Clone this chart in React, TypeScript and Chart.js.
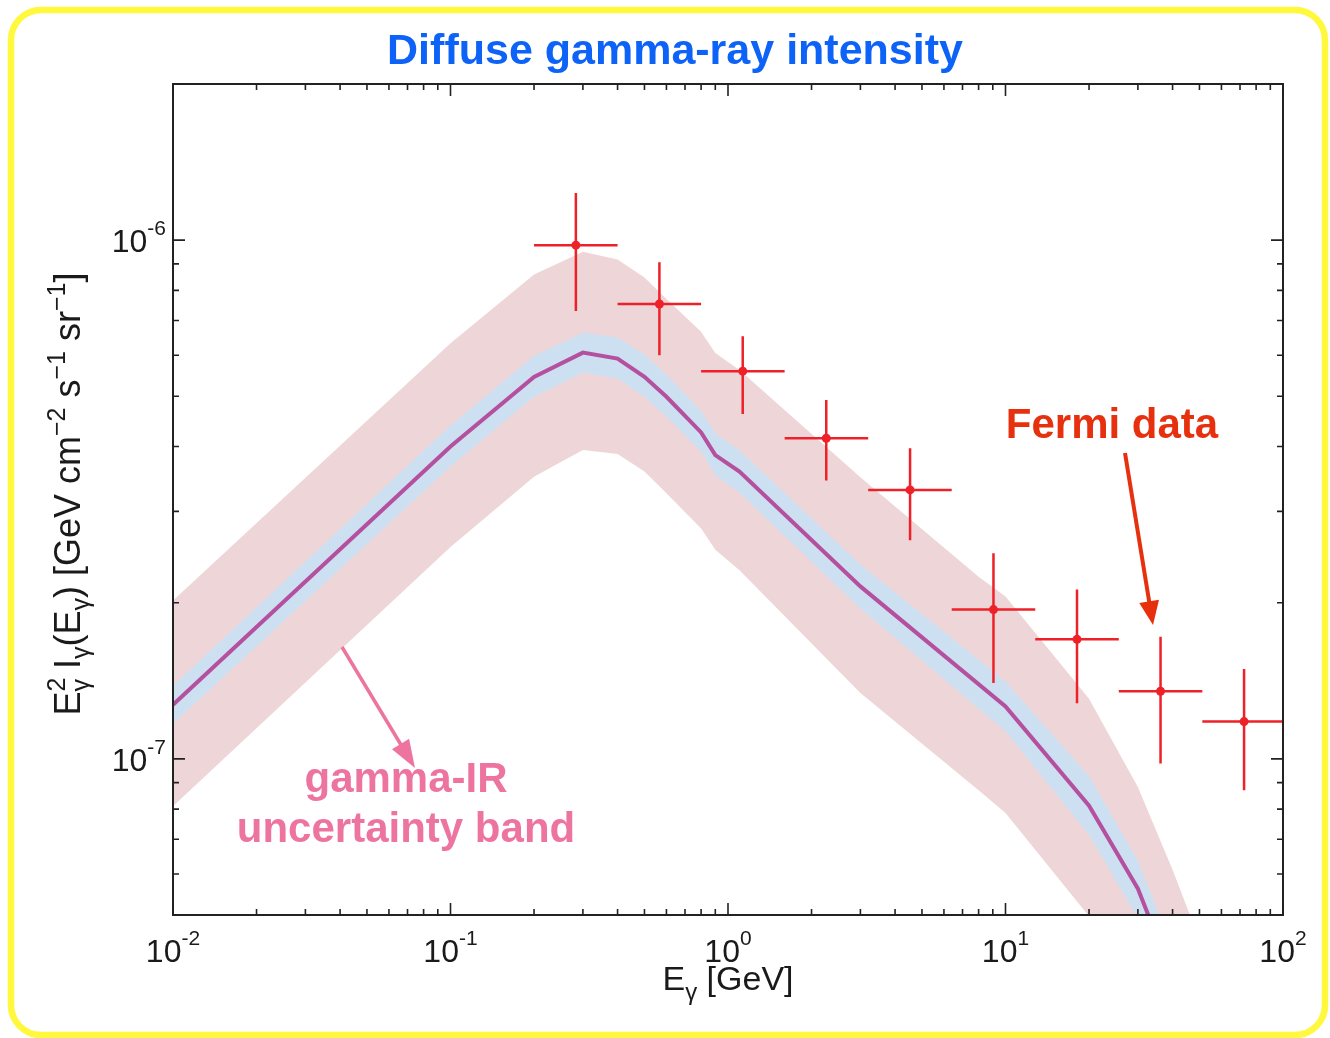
import React, { useEffect, useRef } from "react";
import { Chart, registerables } from "chart.js";

Chart.register(...registerables);

// ---------- axis ranges ----------
const X_MIN = 0.01;
const X_MAX = 100;
const Y_MIN = 5e-8;
const Y_MAX = 2e-6;

// ---------- tick labels (exponents of 10) ----------
const xTickExp = [-2, -1, 0, 1, 2];
const yTickExp = [-7, -6];

// ---------- Fermi data ----------
const fermiE = [0.283, 0.566, 1.13, 2.26, 4.53, 9.05, 18.1, 36.2, 72.4];
const fermiI = [9.78e-7, 7.53e-7, 5.59e-7, 4.15e-7, 3.3e-7, 1.94e-7, 1.7e-7, 1.35e-7, 1.18e-7];
const fermiIlo = [7.3e-7, 6.0e-7, 4.62e-7, 3.44e-7, 2.64e-7, 1.4e-7, 1.28e-7, 9.8e-8, 8.7e-8];
const fermiIhi = [1.233e-6, 9.07e-7, 6.53e-7, 4.92e-7, 3.97e-7, 2.49e-7, 2.12e-7, 1.72e-7, 1.49e-7];
const fermiElo = [0.2, 0.4, 0.8, 1.6, 3.2, 6.4, 12.8, 25.6, 51.2];
const fermiEhi = [0.4, 0.8, 1.6, 3.2, 6.4, 12.8, 25.6, 51.2, 102.4];

// ---------- model curve & narrow (blue) band ----------
const curveE = [0.01, 0.1, 0.2, 0.3, 0.4, 0.5, 0.6, 0.8, 0.9, 1.1, 3, 10, 20, 30, 40];
const curveI = [1.271e-7, 4.0e-7, 5.45e-7, 6.07e-7, 5.91e-7, 5.45e-7, 4.99e-7, 4.26e-7, 3.85e-7, 3.58e-7, 2.15e-7, 1.262e-7, 8.12e-8, 5.62e-8, 3.8e-8];
const blueHi = [1.383e-7, 4.39e-7, 5.98e-7, 6.63e-7, 6.49e-7, 6.01e-7, 5.5e-7, 4.69e-7, 4.25e-7, 3.93e-7, 2.37e-7, 1.41e-7, 9.27e-8, 6.36e-8, 4.3e-8];
const blueLo = [1.168e-7, 3.66e-7, 4.99e-7, 5.55e-7, 5.41e-7, 4.99e-7, 4.57e-7, 3.91e-7, 3.52e-7, 3.26e-7, 1.95e-7, 1.13e-7, 7.14e-8, 4.92e-8, 3.33e-8];

// ---------- gamma-IR uncertainty (pink) band ----------
const pinkE = [0.01, 0.1, 0.2, 0.3, 0.4, 0.5, 0.6, 0.8, 0.9, 1.1, 3, 8, 10, 20, 30, 40, 50];
const pinkHi = [2.02e-7, 6.33e-7, 8.59e-7, 9.5e-7, 9.18e-7, 8.47e-7, 7.7e-7, 6.66e-7, 6.06e-7, 5.62e-7, 3.49e-7, 2.245e-7, 2.055e-7, 1.306e-7, 8.83e-8, 6.11e-8, 4.48e-8];
const pinkLo = [8.1e-8, 2.56e-7, 3.5e-7, 3.94e-7, 3.87e-7, 3.58e-7, 3.25e-7, 2.78e-7, 2.53e-7, 2.31e-7, 1.34e-7, 8.7e-8, 7.86e-8, 4.97e-8, 3.5e-8, 2.8e-8, 2.3e-8];

// ---------- styling ----------
const FONT = '"Liberation Sans", Arial, Helvetica, sans-serif';
const RED = "#ee2129";
const PINK_FILL = "#eed6d8";
const BLUE_FILL = "#cce0f2";
const CURVE = "#b5509f";
const AXIS = "#222222";
const TITLE_BLUE = "#0d63f7";
const FERMI_RED = "#e6300e";
const BAND_PINK = "#ee74a0";

const toXY = (xs: number[], ys: number[]) => xs.map((x, i) => ({ x, y: ys[i] }));

type Run = { t: string; size: number; dy: number; noAdvance?: boolean };

function runsWidth(ctx: CanvasRenderingContext2D, runs: Run[]) {
  let w = 0;
  for (const r of runs) {
    ctx.font = `${r.size}px ${FONT}`;
    if (!r.noAdvance) w += ctx.measureText(r.t).width;
  }
  return w;
}

function drawRuns(ctx: CanvasRenderingContext2D, runs: Run[], x0: number, baseline: number) {
  let x = x0;
  ctx.textBaseline = "alphabetic";
  ctx.textAlign = "left";
  for (const r of runs) {
    ctx.font = `${r.size}px ${FONT}`;
    ctx.fillText(r.t, x, baseline + r.dy);
    if (!r.noAdvance) x += ctx.measureText(r.t).width;
  }
}

function arrow(
  ctx: CanvasRenderingContext2D,
  x1: number, y1: number, x2: number, y2: number,
  color: string, lw: number, headLen: number, headW: number
) {
  const ang = Math.atan2(y2 - y1, x2 - x1);
  const c = Math.cos(ang), s = Math.sin(ang);
  const bx = x2 - headLen * c, by = y2 - headLen * s;
  ctx.save();
  ctx.strokeStyle = color;
  ctx.fillStyle = color;
  ctx.lineWidth = lw;
  ctx.beginPath();
  ctx.moveTo(x1, y1);
  ctx.lineTo(bx + 2 * c, by + 2 * s);
  ctx.stroke();
  ctx.beginPath();
  ctx.moveTo(x2, y2);
  ctx.lineTo(bx - headW * s, by + headW * c);
  ctx.lineTo(bx + headW * s, by - headW * c);
  ctx.closePath();
  ctx.fill();
  ctx.restore();
}

const decorPlugin = {
  id: "decor",
  beforeDraw(chart: any) {
    const ctx: CanvasRenderingContext2D = chart.ctx;
    ctx.save();
    ctx.fillStyle = "#ffffff";
    ctx.fillRect(0, 0, chart.width, chart.height);
    // yellow rounded frame
    ctx.strokeStyle = "#fff83c";
    ctx.lineWidth = 6.5;
    ctx.beginPath();
    (ctx as any).roundRect(11, 10, 1314, 1025, 30);
    ctx.stroke();
    ctx.restore();
  },
  afterDatasetsDraw(chart: any) {
    const ctx: CanvasRenderingContext2D = chart.ctx;
    const ca = chart.chartArea;
    const xs = chart.scales.x;
    const ys = chart.scales.y;

    // ---- error bars ----
    ctx.save();
    ctx.beginPath();
    ctx.rect(ca.left, ca.top, ca.right - ca.left, ca.bottom - ca.top);
    ctx.clip();
    ctx.strokeStyle = RED;
    ctx.lineWidth = 2.5;
    for (let i = 0; i < fermiE.length; i++) {
      const px = xs.getPixelForValue(fermiE[i]);
      const py = ys.getPixelForValue(fermiI[i]);
      ctx.beginPath();
      ctx.moveTo(xs.getPixelForValue(fermiElo[i]), py);
      ctx.lineTo(xs.getPixelForValue(fermiEhi[i]), py);
      ctx.moveTo(px, ys.getPixelForValue(fermiIhi[i]));
      ctx.lineTo(px, ys.getPixelForValue(fermiIlo[i]));
      ctx.stroke();
    }
    ctx.restore();

    // ---- axes box and ticks ----
    ctx.save();
    ctx.strokeStyle = AXIS;
    ctx.lineWidth = 2;
    ctx.strokeRect(ca.left, ca.top, ca.right - ca.left, ca.bottom - ca.top);
    const MAJ = 12, MIN = 6;
    ctx.lineWidth = 1.6;
    // x ticks
    for (let k = -2; k <= 2; k++) {
      for (let m = 1; m <= 9; m++) {
        const v = m * Math.pow(10, k);
        if (v < X_MIN * 0.999 || v > X_MAX * 1.001) continue;
        const px = xs.getPixelForValue(v);
        const len = m === 1 ? MAJ : MIN;
        ctx.beginPath();
        ctx.moveTo(px, ca.bottom);
        ctx.lineTo(px, ca.bottom - len);
        ctx.moveTo(px, ca.top);
        ctx.lineTo(px, ca.top + len);
        ctx.stroke();
      }
    }
    // y ticks
    for (let k = -8; k <= -6; k++) {
      for (let m = 1; m <= 9; m++) {
        const v = m * Math.pow(10, k);
        if (v < Y_MIN * 0.999 || v > Y_MAX * 1.001) continue;
        const py = ys.getPixelForValue(v);
        const len = m === 1 ? MAJ : MIN;
        ctx.beginPath();
        ctx.moveTo(ca.left, py);
        ctx.lineTo(ca.left + len, py);
        ctx.moveTo(ca.right, py);
        ctx.lineTo(ca.right - len, py);
        ctx.stroke();
      }
    }
    ctx.restore();

    // ---- tick labels ----
    ctx.save();
    ctx.fillStyle = "#1a1a1a";
    for (const e of xTickExp) {
      const px = xs.getPixelForValue(Math.pow(10, e));
      const runs: Run[] = [
        { t: "10", size: 32, dy: 0 },
        { t: String(e), size: 21, dy: -17 },
      ];
      const w = runsWidth(ctx, runs);
      drawRuns(ctx, runs, px - w / 2, 962);
    }
    for (const e of yTickExp) {
      const py = ys.getPixelForValue(Math.pow(10, e));
      const runs: Run[] = [
        { t: "10", size: 32, dy: 0 },
        { t: String(e), size: 21, dy: -17 },
      ];
      const w = runsWidth(ctx, runs);
      drawRuns(ctx, runs, 166 - w, py + 12);
    }

    // ---- x-axis title ----
    const xt: Run[] = [
      { t: "E", size: 34, dy: 0 },
      { t: "γ", size: 24, dy: 10 },
      { t: " [GeV]", size: 34, dy: 0 },
    ];
    const xw = runsWidth(ctx, xt);
    drawRuns(ctx, xt, 728 - xw / 2, 990);

    // ---- y-axis title (rotated) ----
    const yt: Run[] = [
      { t: "E", size: 36, dy: 0 },
      { t: "2", size: 25, dy: -15, noAdvance: true },
      { t: "γ", size: 25, dy: 9 },
      { t: " I", size: 36, dy: 0 },
      { t: "γ", size: 25, dy: 9 },
      { t: "(E", size: 36, dy: 0 },
      { t: "γ", size: 25, dy: 9 },
      { t: ") [GeV cm", size: 36, dy: 0 },
      { t: "−2", size: 25, dy: -15 },
      { t: " s", size: 36, dy: 0 },
      { t: "−1", size: 25, dy: -15 },
      { t: " sr", size: 36, dy: 0 },
      { t: "−1", size: 25, dy: -15 },
      { t: "]", size: 36, dy: 0 },
    ];
    const yw = runsWidth(ctx, yt);
    ctx.save();
    ctx.translate(80, 494);
    ctx.rotate(-Math.PI / 2);
    drawRuns(ctx, yt, -yw / 2, 0);
    ctx.restore();
    ctx.restore();

    // ---- title ----
    ctx.save();
    ctx.fillStyle = TITLE_BLUE;
    ctx.font = `bold 43px ${FONT}`;
    ctx.textAlign = "center";
    ctx.textBaseline = "alphabetic";
    ctx.fillText("Diffuse gamma-ray intensity", 675, 64);

    // ---- annotations ----
    ctx.font = `bold 42px ${FONT}`;
    ctx.fillStyle = FERMI_RED;
    ctx.fillText("Fermi data", 1112, 438);
    ctx.fillStyle = BAND_PINK;
    ctx.fillText("gamma-IR", 406, 792);
    ctx.fillText("uncertainty band", 406, 842);
    ctx.restore();

    arrow(ctx, 1125, 453, 1153, 625, FERMI_RED, 4, 24, 10);
    arrow(ctx, 342, 647, 415, 768, BAND_PINK, 3.5, 28, 10);
  },
};

export default function App() {
  const ref = useRef<HTMLCanvasElement>(null);

  useEffect(() => {
    const canvas = ref.current;
    if (!canvas) return;
    const chart = new Chart(canvas, {
      type: "line",
      data: {
        datasets: [
          {
            label: "pinkHi",
            data: toXY(pinkE, pinkHi),
            borderWidth: 0,
            borderColor: "rgba(0,0,0,0)",
            backgroundColor: PINK_FILL,
            pointRadius: 0,
            fill: "+1",
            order: 5,
            clip: 0,
          } as any,
          {
            label: "pinkLo",
            data: toXY(pinkE, pinkLo),
            borderWidth: 0,
            borderColor: "rgba(0,0,0,0)",
            pointRadius: 0,
            fill: false,
            order: 4,
            clip: 0,
          } as any,
          {
            label: "blueHi",
            data: toXY(curveE, blueHi),
            borderWidth: 0,
            borderColor: "rgba(0,0,0,0)",
            backgroundColor: BLUE_FILL,
            pointRadius: 0,
            fill: "+1",
            order: 3,
            clip: 0,
          } as any,
          {
            label: "blueLo",
            data: toXY(curveE, blueLo),
            borderWidth: 0,
            borderColor: "rgba(0,0,0,0)",
            pointRadius: 0,
            fill: false,
            order: 2,
            clip: 0,
          } as any,
          {
            label: "model",
            data: toXY(curveE, curveI),
            borderColor: CURVE,
            borderWidth: 4,
            pointRadius: 0,
            fill: false,
            tension: 0,
            order: 1,
            clip: 0,
          } as any,
          {
            label: "Fermi",
            data: toXY(fermiE, fermiI),
            showLine: false,
            pointRadius: 4.5,
            pointBackgroundColor: RED,
            pointBorderColor: RED,
            pointBorderWidth: 0,
            fill: false,
            order: 0,
          } as any,
        ],
      },
      options: {
        animation: false,
        responsive: false,
        devicePixelRatio: 1,
        events: [],
        layout: { padding: { left: 173, right: 47, top: 84, bottom: 123 } },
        plugins: {
          legend: { display: false },
          title: { display: false },
          tooltip: { enabled: false },
        },
        scales: {
          x: { type: "logarithmic", min: X_MIN, max: X_MAX, display: false },
          y: { type: "logarithmic", min: Y_MIN, max: Y_MAX, display: false },
        },
      } as any,
      plugins: [decorPlugin],
    });
    return () => chart.destroy();
  }, []);

  return (
    <div style={{ position: "fixed", left: 0, top: 0, width: 1330, height: 1038, background: "#ffffff" }}>
      <canvas ref={ref} width={1330} height={1038} style={{ display: "block", width: 1330, height: 1038 }} />
    </div>
  );
}
